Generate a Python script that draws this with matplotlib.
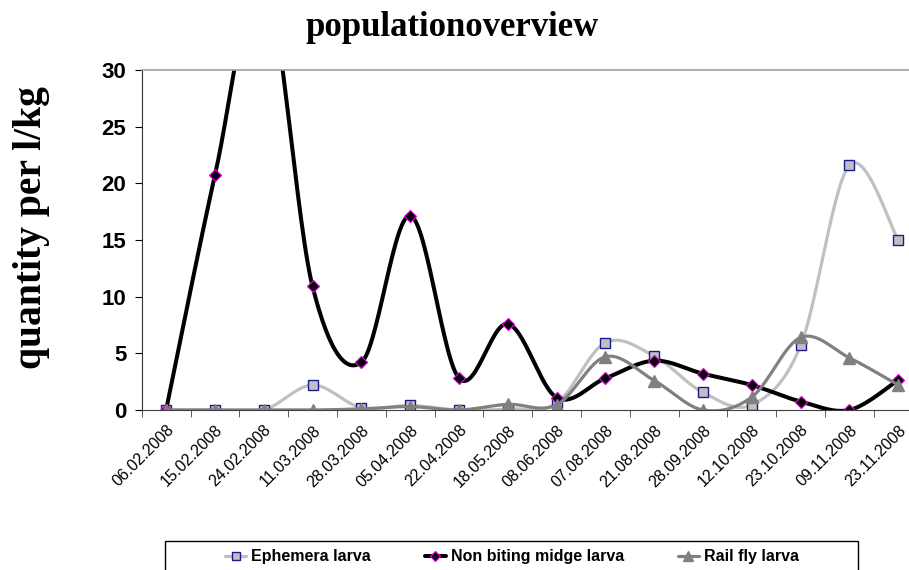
import numpy as np
import matplotlib
matplotlib.use('Agg')
import matplotlib.pyplot as plt
from matplotlib.patches import Rectangle

# category labels (sampling dates)
dates = ["06.02.2008", "15.02.2008", "24.02.2008", "11.03.2008", "28.03.2008",
         "05.04.2008", "22.04.2008", "18.05.2008", "08.06.2008", "07.08.2008",
         "21.08.2008", "28.09.2008", "12.10.2008", "23.10.2008", "09.11.2008",
         "23.11.2008"]

# quantity per l/kg
ephemera = [0, 0, 0, 2.2, 0.2, 0.4, 0, 0.1, 0.6, 5.95, 4.75, 1.55, 0.45, 5.7, 21.6, 15.0]
midge = [0, 20.7, 38.3, 10.9, 4.2, 17.15, 2.8, 7.6, 1.1, 2.8, 4.35, 3.2, 2.2, 0.75, 0, 2.65]
railfly = [0, 0, 0, 0, 0.1, 0.3, 0, 0.5, 0.45, 4.7, 2.6, 0, 1.15, 6.4, 4.6, 2.2]

N_SEG = 30


def smooth(values):
    """Catmull-Rom style bezier smoothing, like the spreadsheet 'smoothed line'."""
    y = np.asarray(values, dtype=float)
    x = np.arange(len(y), dtype=float)
    xs, ys = [], []
    t = np.linspace(0, 1, N_SEG, endpoint=False)
    for i in range(len(y) - 1):
        i0 = max(i - 1, 0)
        i3 = min(i + 2, len(y) - 1)
        pts = []
        for arr in (x, y):
            b0 = arr[i]
            b1 = arr[i] + (arr[i + 1] - arr[i0]) / 6
            b2 = arr[i + 1] - (arr[i3] - arr[i]) / 6
            b3 = arr[i + 1]
            pts.append((1 - t) ** 3 * b0 + 3 * (1 - t) ** 2 * t * b1
                       + 3 * (1 - t) * t ** 2 * b2 + t ** 3 * b3)
        xs.append(pts[0])
        ys.append(pts[1])
    xs.append([x[-1]])
    ys.append([y[-1]])
    return np.concatenate(xs), np.concatenate(ys)


fig = plt.figure(figsize=(9.09, 5.70), dpi=100)
ax = fig.add_axes([141.7 / 909, 1 - 410 / 570, 781 / 909, 340 / 570])

marks = list(range(0, N_SEG * (len(dates) - 1) + 1, N_SEG))

series = [
    ("Ephemera larva", ephemera, dict(color="#c0c0c0", lw=2.3, marker="s", ms=6.5,
                                      mfc="#c0c0c0", mec="#1a1a8c", mew=1.0)),
    ("Non biting midge larva", midge, dict(color="black", lw=2.9, marker="D", ms=6.5,
                                           mfc="black", mec="#e000e0", mew=0.9)),
    ("Rail fly larva", railfly, dict(color="#808080", lw=2.3, marker="^", ms=9,
                                     mfc="#808080", mec="#808080", mew=1.0)),
]
for label, vals, style in series:
    sx, sy = smooth(vals)
    ax.plot(sx, sy, label=label, markevery=marks, solid_capstyle="round", **style)

ax.set_xlim(-0.5, len(dates) - 0.5)
ax.set_ylim(0, 30)

ax.set_xticks(np.arange(len(dates)))
ax.set_xticklabels(dates, rotation=45, ha="right", rotation_mode="anchor",
                   fontsize=11.5, family="Liberation Sans")
ax.tick_params(axis="x", which="major", length=0, pad=9)
ax.set_xticks(np.arange(-0.5, len(dates)), minor=True)
ax.tick_params(axis="x", which="minor", length=5, direction="out", color="#404040")

ax.set_yticks(np.arange(0, 31, 5))
ax.tick_params(axis="y", length=5, direction="out", pad=6)
for lbl in ax.get_yticklabels():
    lbl.set_fontfamily("Liberation Sans")
    lbl.set_fontweight("bold")
    lbl.set_fontsize(16)

ax.spines["right"].set_visible(False)
ax.spines["top"].set_color("#a0a0a0")
ax.spines["top"].set_linewidth(1.2)
ax.spines["left"].set_color("#303030")
ax.spines["bottom"].set_color("#404040")

fig.text(452 / 909, 1 - 27 / 570, "populationoverview", ha="center", va="center",
         fontsize=25, fontweight="bold", family="Liberation Serif")
fig.text(32 / 909, 1 - 228 / 570, "quantity per l/kg", ha="center", va="center",
         rotation=90, fontsize=28.5, fontweight="bold", family="Liberation Serif")

# legend box, runs off the bottom edge like the original
fig.patches.append(Rectangle((165 / 909, -0.05), 693 / 909, 0.05 + 1 - 541 / 570,
                             transform=fig.transFigure, fill=False,
                             edgecolor="black", linewidth=1.0))
fig.legend(loc="center", bbox_to_anchor=(512 / 909, 1 - 557 / 570), ncol=3,
           frameon=False, prop={"family": "Liberation Sans", "weight": "bold", "size": 11.5},
           handlelength=1.3, handletextpad=0.3, columnspacing=3.4, markerscale=0.8)

fig.savefig("out.png", dpi=100)
